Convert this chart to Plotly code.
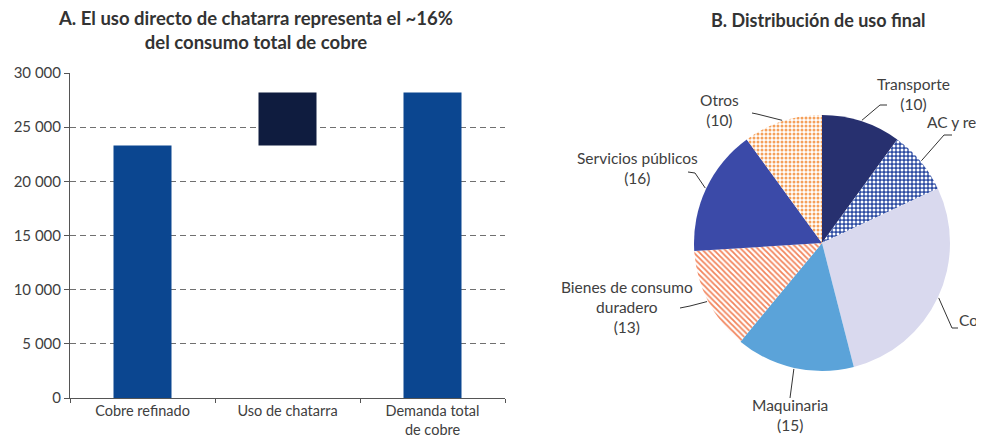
import math
import plotly.graph_objects as go

# ---------------- data ----------------
bar_categories = ["Cobre refinado", "Uso de chatarra", "Demanda total<br>de cobre"]
bar_values = [23300, 4900, 28200]
bar_bases = [0, 23300, 0]
bar_colors = ["#0b4690", "#0f1c3f", "#0b4690"]
y_ticks = [0, 5000, 10000, 15000, 20000, 25000, 30000]

pie_labels = ["Transporte", "AC y refrigeración", "Construcción", "Maquinaria",
              "Bienes de consumo duradero", "Servicios públicos", "Otros"]
pie_label_lines = [["Transporte"], ["AC y refrigeración"], ["Construcción"], ["Maquinaria"],
                   ["Bienes de consumo", "duradero"], ["Servicios públicos"], ["Otros"]]
pie_values = [10, 8, 28, 15, 13, 16, 10]
pie_colors = ["#27306f", "#2d4ca3", "#d9d9ee", "#5ba3d9", "#ffffff", "#3b4aa8", "#ffffff"]
pie_pattern_shapes = ["", ".", "", "", "\\", "", "."]
pie_pattern_fg = ["#27306f", "#ffffff", "#d9d9ee", "#5ba3d9", "#f2845c", "#3b4aa8", "#f5a05a"]
pie_value_inline = [False, True, True, False, False, False, False]

# ---------------- layout helpers ----------------
W, H = 984, 437          # browser window
OFF = 8                  # page body margin
FW, FH = W - OFF, H - OFF


def px(x):
    return (x - OFF) / FW


def py(y):
    return 1 - (y - OFF) / FH


FONT = "Lato, 'Open Sans', sans-serif"
TXT = "#404040"

# bar panel geometry (page pixels)
bx0, bx1, by_top, by_bot = 70, 505, 73, 398
# pie geometry (page pixels)
cx, cy, R = 822, 243, 128

fig = go.Figure()

fig.add_trace(go.Bar(
    x=bar_categories, y=bar_values, base=bar_bases,
    marker=dict(color=bar_colors, line=dict(width=0)),
    width=0.4, showlegend=False, hoverinfo="skip",
    xaxis="x", yaxis="y",
))

fig.add_trace(go.Pie(
    labels=pie_labels, values=pie_values, sort=False, direction="clockwise",
    rotation=0, textinfo="none", hoverinfo="label+value", showlegend=False,
    marker=dict(colors=pie_colors, line=dict(width=0),
                pattern=dict(shape=pie_pattern_shapes, fgcolor=pie_pattern_fg,
                             bgcolor=pie_colors, size=4, solidity=0.45)),
    domain=dict(x=[px(cx - R), px(cx + R)], y=[py(cy + R), py(cy - R)]),
))

# ---------------- pie labels and leader lines ----------------
label_pos = [  # (x, block-centre y, xanchor) in page pixels
    (913, 94, "center"),
    (925, 122, "left"),
    (957, 320, "left"),
    (790, 415, "center"),
    (627, 307, "center"),
    (637, 168, "center"),
    (719, 110, "center"),
]
leader_pts = [  # (elbow, end) in page pixels
    ((880, 105), (887, 105)),
    ((944, 135), (952, 135)),
    ((952, 328), (958, 328)),
    ((790, 398), (790, 398)),
    ((690, 306), (680, 308)),
    ((695, 173), (688, 172)),
    ((757, 114), (752, 113)),
]

annotations = []
shapes = []
total = sum(pie_values)
cum = 0
for i, v in enumerate(pie_values):
    mid = (cum + v / 2) / total * 2 * math.pi
    cum += v
    sx = cx + (R + 1) * math.sin(mid)
    sy = cy - (R + 1) * math.cos(mid)
    (ex, ey), (tx, ty) = leader_pts[i]
    shapes.append(dict(
        type="path", xref="paper", yref="paper",
        path=f"M {px(sx)},{py(sy)} L {px(ex)},{py(ey)} L {px(tx)},{py(ty)}",
        line=dict(color="#333333", width=1),
    ))
    lines = list(pie_label_lines[i])
    if pie_value_inline[i]:
        lines[-1] = f"{lines[-1]} ({v})"
    else:
        lines.append(f"({v})")
    lx, ly, anc = label_pos[i]
    annotations.append(dict(
        x=px(lx), y=py(ly), xref="paper", yref="paper", text="<br>".join(lines),
        showarrow=False, xanchor=anc, yanchor="middle", align="center",
        font=dict(family=FONT, size=15.5, color=TXT),
    ))

# titles
annotations.append(dict(
    x=px(255), y=py(30), xref="paper", yref="paper",
    text="<b>A. El uso directo de chatarra representa el ~16%<br>del consumo total de cobre</b>",
    showarrow=False, xanchor="center", yanchor="middle", align="center",
    font=dict(family=FONT, size=18.5, color="#333333"),
))
annotations.append(dict(
    x=px(818), y=py(20), xref="paper", yref="paper",
    text="<b>B. Distribución de uso final</b>",
    showarrow=False, xanchor="center", yanchor="middle", align="center",
    font=dict(family=FONT, size=18, color="#333333"),
))

fig.update_layout(
    width=FW, height=FH, autosize=False,
    margin=dict(l=0, r=0, t=0, b=0, autoexpand=False),
    paper_bgcolor="white", plot_bgcolor="white",
    separators=", ",
    font=dict(family=FONT, size=15, color=TXT),
    xaxis=dict(
        domain=[px(bx0), px(bx1)], range=[-0.5, 2.5], automargin=False,
        showline=True, linecolor="#555555", linewidth=1,
        ticks="outside", tickson="boundaries", ticklen=4, tickcolor="#555555",
        showgrid=False, tickfont=dict(family=FONT, size=14.5, color=TXT),
        fixedrange=True,
    ),
    yaxis=dict(
        domain=[py(by_bot), py(by_top)], range=[0, 30000], automargin=False,
        tickvals=y_ticks, tickformat=",d",
        showline=True, linecolor="#555555", linewidth=1,
        ticks="outside", ticklen=5, tickcolor="#555555",
        showgrid=True, gridcolor="#707070", gridwidth=1, griddash="6px,4px",
        zeroline=False, tickfont=dict(family=FONT, size=15, color=TXT),
        fixedrange=True,
    ),
    annotations=annotations,
    shapes=shapes,
)

fig.write_html("out.html")
